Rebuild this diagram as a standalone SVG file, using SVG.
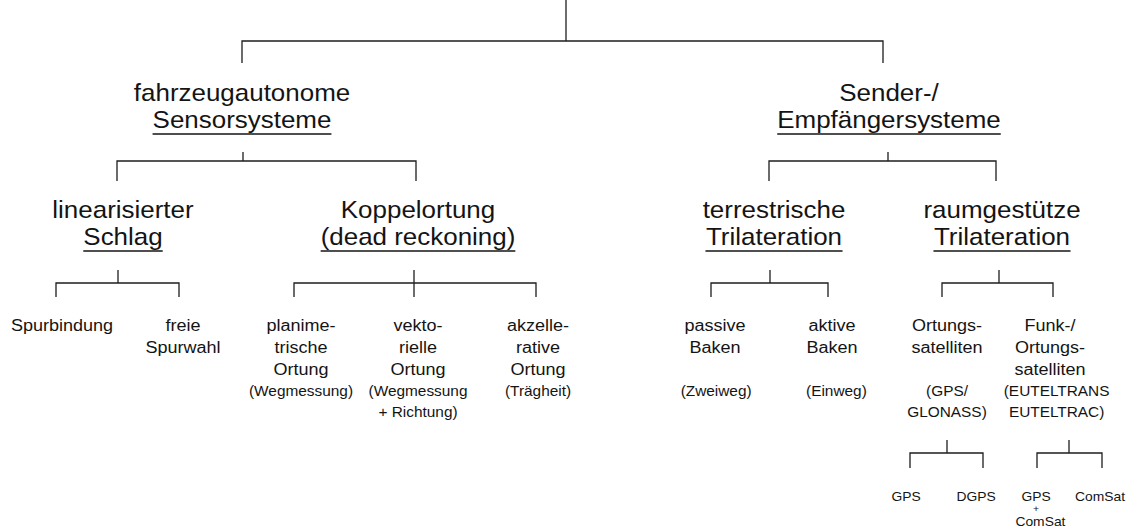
<svg xmlns="http://www.w3.org/2000/svg" width="1133" height="529" viewBox="0 0 1133 529">
<style>
text{font-family:"Liberation Sans",Arial,Helvetica,sans-serif;fill:#141414;text-anchor:middle}
.f1{font-size:23.6px}
.f2{font-size:16.4px}
.f3{font-size:14px}
.f4{font-size:12.6px}
.f5{font-size:9.5px}
.ul{stroke:#141414;stroke-width:1.4}
#connectors path{fill:none;stroke:#1e1e1e;stroke-width:1.3}
</style>
<rect width="1133" height="529" fill="#ffffff"/>
<g id="connectors">
<path d="M566,0 V41"/>
<path d="M242,63 V41 H883 V63"/>
<path d="M243,152 V161"/>
<path d="M117,181 V161 H416 V181"/>
<path d="M888,152 V161"/>
<path d="M769,181 V161 H996 V181"/>
<path d="M118,270 V283"/>
<path d="M56,297 V283 H179 V297"/>
<path d="M414,270 V297"/>
<path d="M294,297 V283 H536 V297"/>
<path d="M770,270 V283"/>
<path d="M711,297 V283 H828 V297"/>
<path d="M999,270 V283"/>
<path d="M942,297 V283 H1053 V297"/>
<path d="M947,440 V453"/>
<path d="M910,468 V453 H983 V468"/>
<path d="M1069,440 V453"/>
<path d="M1037,468 V453 H1102 V468"/>
</g>
<g id="fahrzeugautonome" transform="translate(242,0) scale(1.1,1)">
<text class="f1" x="0" y="101">fahrzeugautonome</text>
<text class="f1" x="0" y="128">Sensorsysteme</text>
<line class="ul" x1="-81.3" y1="134" x2="81.3" y2="134"/>
</g>
<g id="sender" transform="translate(889,0) scale(1.1,1)">
<text class="f1" x="0" y="101">Sender-/</text>
<text class="f1" x="0" y="128">Empfängersysteme</text>
<line class="ul" x1="-101.6" y1="134" x2="101.6" y2="134"/>
</g>
<g id="linearisiert" transform="translate(123,0) scale(1.1,1)">
<text class="f1" x="0" y="218">linearisierter</text>
<text class="f1" x="0" y="245">Schlag</text>
<line class="ul" x1="-36.1" y1="251" x2="36.1" y2="251"/>
</g>
<g id="koppelortung" transform="translate(418,0) scale(1.1,1)">
<text class="f1" x="0" y="218">Koppelortung</text>
<text class="f1" x="0" y="245">(dead reckoning)</text>
<line class="ul" x1="-88.5" y1="251" x2="88.5" y2="251"/>
</g>
<g id="terrestrisch" transform="translate(774,0) scale(1.1,1)">
<text class="f1" x="0" y="218">terrestrische</text>
<text class="f1" x="0" y="245">Trilateration</text>
<line class="ul" x1="-62.3" y1="251" x2="62.3" y2="251"/>
</g>
<g id="raumgestuetzt" transform="translate(1002,0) scale(1.1,1)">
<text class="f1" x="0" y="218">raumgestütze</text>
<text class="f1" x="0" y="245">Trilateration</text>
<line class="ul" x1="-62.3" y1="251" x2="62.3" y2="251"/>
</g>
<g id="spurbindung" transform="translate(62,0) scale(1.1,1)">
<text class="f2" x="0" y="331">Spurbindung</text>
</g>
<g id="spurwahl" transform="translate(183,0) scale(1.1,1)">
<text class="f2" x="0" y="331">freie</text>
<text class="f2" x="0" y="353">Spurwahl</text>
</g>
<g id="planimetrisch" transform="translate(301,0) scale(1.1,1)">
<text class="f2" x="0" y="331">planime-</text>
<text class="f2" x="0" y="353">trische</text>
<text class="f2" x="0" y="375">Ortung</text>
<text class="f3" x="0" y="396">(Wegmessung)</text>
</g>
<g id="vektoriell" transform="translate(418,0) scale(1.1,1)">
<text class="f2" x="0" y="331">vekto-</text>
<text class="f2" x="0" y="353">rielle</text>
<text class="f2" x="0" y="375">Ortung</text>
<text class="f3" x="0" y="396">(Wegmessung</text>
<text class="f3" x="0" y="417">+ Richtung)</text>
</g>
<g id="akzellerativ" transform="translate(538,0) scale(1.1,1)">
<text class="f2" x="0" y="331">akzelle-</text>
<text class="f2" x="0" y="353">rative</text>
<text class="f2" x="0" y="375">Ortung</text>
<text class="f3" x="0" y="396">(Trägheit)</text>
</g>
<g id="passiv" transform="translate(715,0) scale(1.1,1)">
<text class="f2" x="0" y="331">passive</text>
<text class="f2" x="0" y="353">Baken</text>
<text class="f3" x="1" y="396">(Zweiweg)</text>
</g>
<g id="aktiv" transform="translate(832,0) scale(1.1,1)">
<text class="f2" x="0" y="331">aktive</text>
<text class="f2" x="0" y="353">Baken</text>
<text class="f3" x="4" y="396">(Einweg)</text>
</g>
<g id="ortungssat" transform="translate(947,0) scale(1.1,1)">
<text class="f2" x="0" y="331">Ortungs-</text>
<text class="f2" x="0" y="353">satelliten</text>
<text class="f3" x="0" y="396">(GPS/</text>
<text class="f3" x="0" y="417">GLONASS)</text>
</g>
<g id="funksat" transform="translate(1050,0) scale(1.1,1)">
<text class="f2" x="0" y="331">Funk-/</text>
<text class="f2" x="0" y="353">Ortungs-</text>
<text class="f2" x="0" y="375">satelliten</text>
<text class="f3" x="6" y="396">(EUTELTRANS</text>
<text class="f3" x="6" y="417">EUTELTRAC)</text>
</g>
<g id="gps" transform="translate(906,0) scale(1.1,1)">
<text class="f4" x="0" y="501">GPS</text>
</g>
<g id="dgps" transform="translate(976,0) scale(1.1,1)">
<text class="f4" x="0" y="501">DGPS</text>
</g>
<g id="gpscomsat" transform="translate(1036,0) scale(1.1,1)">
<text class="f4" x="0" y="501">GPS</text>
<text class="f5" x="0" y="512.3">+</text>
<text class="f4" x="4" y="526">ComSat</text>
</g>
<g id="comsat" transform="translate(1100,0) scale(1.1,1)">
<text class="f4" x="0" y="501">ComSat</text>
</g>
</svg>
